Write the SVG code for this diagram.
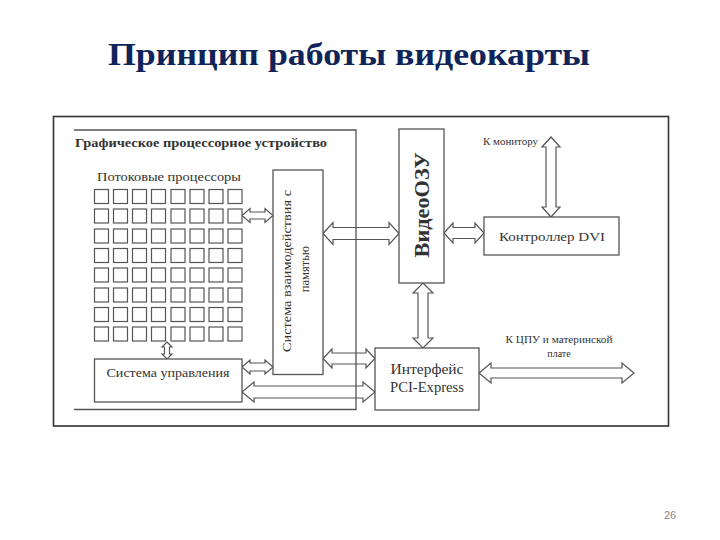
<svg xmlns="http://www.w3.org/2000/svg" width="720" height="540" viewBox="0 0 720 540">
<style>
.box{fill:#fff;stroke:#555;stroke-width:1.3}
.cell{fill:#fff;stroke:#555;stroke-width:1.2}
.ln{fill:none;stroke:#555;stroke-width:1.3}
.arr{fill:#fff;stroke:#555;stroke-width:1.2;stroke-linejoin:miter}
.t{font-family:"Liberation Serif","DejaVu Serif",serif;fill:#333}
</style>
<rect x="0" y="0" width="720" height="540" fill="#fff"/>
<text x="349" y="65" text-anchor="middle" font-family="Liberation Serif, Times New Roman, serif" font-weight="bold" font-size="32" fill="#10245a" textLength="482" lengthAdjust="spacingAndGlyphs">Принцип работы видеокарты</text>
<g id="panel">
<rect x="53.5" y="116.5" width="615" height="309.5" fill="#fff" stroke="#333" stroke-width="1.6"/>
</g>
<g id="connectors">
<polygon class="arr" points="242,215.5 250,208.5 250,212 265,212 265,208.5 273,215.5 265,222.5 265,219 250,219 250,222.5"/>
<polygon class="arr" points="323,233.5 333,222.5 333,227.5 389,227.5 389,222.5 399,233.5 389,244.5 389,239.5 333,239.5 333,244.5"/>
<polygon class="arr" points="444,233 453,223 453,227.5 475,227.5 475,223 484,233 475,243 475,238.5 453,238.5 453,243"/>
<polygon class="arr" points="551,137 560,147 556,147 556,207 560,207 551,217 542,207 546,207 546,147 542,147"/>
<polygon class="arr" points="423,283 433,293 428,293 428,338 433,338 423,348 413,338 418,338 418,293 413,293"/>
<polygon class="arr" points="323,358.5 332,349 332,353 366,353 366,349 375,358.5 366,368 366,364 332,364 332,368"/>
<polygon class="arr" points="242,367 250,360 250,363 265,363 265,360 273,367 265,374 265,371 250,371 250,374"/>
<polygon class="arr" points="242,392 254,382 254,386 363,386 363,382 375,392 363,402 363,398 254,398 254,402"/>
<polygon class="arr" points="479,373 491,363 491,368 622,368 622,363 634,373 622,383 622,378 491,378 491,383"/>
<polygon class="arr" points="167,342 172,347 169.5,347 169.5,354 172,354 167,359 162,354 164.5,354 164.5,347 162,347"/>
</g>
<g id="gpu">
<polyline class="ln" points="74,130 356,130 356,409.5 74,409.5"/>
<text class="t" x="75" y="147" font-size="12.5" font-weight="bold" textLength="252" lengthAdjust="spacingAndGlyphs">Графическое процессорное устройство</text>
</g>
<g id="stream-processors">
<text class="t" x="169" y="181" font-size="12.5" text-anchor="middle" textLength="144" lengthAdjust="spacingAndGlyphs">Потоковые процессоры</text>
<g>
<rect class="cell" x="94.5" y="189.5" width="14" height="14"/><rect class="cell" x="113.5" y="189.5" width="14" height="14"/><rect class="cell" x="132.5" y="189.5" width="14" height="14"/><rect class="cell" x="151.5" y="189.5" width="14" height="14"/><rect class="cell" x="171" y="189.5" width="14" height="14"/><rect class="cell" x="190" y="189.5" width="14" height="14"/><rect class="cell" x="209" y="189.5" width="14" height="14"/><rect class="cell" x="228" y="189.5" width="14" height="14"/>
<rect class="cell" x="94.5" y="209" width="14" height="14"/><rect class="cell" x="113.5" y="209" width="14" height="14"/><rect class="cell" x="132.5" y="209" width="14" height="14"/><rect class="cell" x="151.5" y="209" width="14" height="14"/><rect class="cell" x="171" y="209" width="14" height="14"/><rect class="cell" x="190" y="209" width="14" height="14"/><rect class="cell" x="209" y="209" width="14" height="14"/><rect class="cell" x="228" y="209" width="14" height="14"/>
<rect class="cell" x="94.5" y="229" width="14" height="14"/><rect class="cell" x="113.5" y="229" width="14" height="14"/><rect class="cell" x="132.5" y="229" width="14" height="14"/><rect class="cell" x="151.5" y="229" width="14" height="14"/><rect class="cell" x="171" y="229" width="14" height="14"/><rect class="cell" x="190" y="229" width="14" height="14"/><rect class="cell" x="209" y="229" width="14" height="14"/><rect class="cell" x="228" y="229" width="14" height="14"/>
<rect class="cell" x="94.5" y="248.5" width="14" height="14"/><rect class="cell" x="113.5" y="248.5" width="14" height="14"/><rect class="cell" x="132.5" y="248.5" width="14" height="14"/><rect class="cell" x="151.5" y="248.5" width="14" height="14"/><rect class="cell" x="171" y="248.5" width="14" height="14"/><rect class="cell" x="190" y="248.5" width="14" height="14"/><rect class="cell" x="209" y="248.5" width="14" height="14"/><rect class="cell" x="228" y="248.5" width="14" height="14"/>
<rect class="cell" x="94.5" y="268" width="14" height="14"/><rect class="cell" x="113.5" y="268" width="14" height="14"/><rect class="cell" x="132.5" y="268" width="14" height="14"/><rect class="cell" x="151.5" y="268" width="14" height="14"/><rect class="cell" x="171" y="268" width="14" height="14"/><rect class="cell" x="190" y="268" width="14" height="14"/><rect class="cell" x="209" y="268" width="14" height="14"/><rect class="cell" x="228" y="268" width="14" height="14"/>
<rect class="cell" x="94.5" y="288" width="14" height="14"/><rect class="cell" x="113.5" y="288" width="14" height="14"/><rect class="cell" x="132.5" y="288" width="14" height="14"/><rect class="cell" x="151.5" y="288" width="14" height="14"/><rect class="cell" x="171" y="288" width="14" height="14"/><rect class="cell" x="190" y="288" width="14" height="14"/><rect class="cell" x="209" y="288" width="14" height="14"/><rect class="cell" x="228" y="288" width="14" height="14"/>
<rect class="cell" x="94.5" y="307.5" width="14" height="14"/><rect class="cell" x="113.5" y="307.5" width="14" height="14"/><rect class="cell" x="132.5" y="307.5" width="14" height="14"/><rect class="cell" x="151.5" y="307.5" width="14" height="14"/><rect class="cell" x="171" y="307.5" width="14" height="14"/><rect class="cell" x="190" y="307.5" width="14" height="14"/><rect class="cell" x="209" y="307.5" width="14" height="14"/><rect class="cell" x="228" y="307.5" width="14" height="14"/>
<rect class="cell" x="94.5" y="327" width="14" height="14"/><rect class="cell" x="113.5" y="327" width="14" height="14"/><rect class="cell" x="132.5" y="327" width="14" height="14"/><rect class="cell" x="151.5" y="327" width="14" height="14"/><rect class="cell" x="171" y="327" width="14" height="14"/><rect class="cell" x="190" y="327" width="14" height="14"/><rect class="cell" x="209" y="327" width="14" height="14"/><rect class="cell" x="228" y="327" width="14" height="14"/>
</g>
</g>
<g id="memory-interface">
<rect class="box" x="273" y="170" width="50" height="204.5"/>
<text class="t" font-size="12.5" text-anchor="middle" transform="translate(291,271) rotate(-90)" textLength="162" lengthAdjust="spacingAndGlyphs">Система взаимодействия с</text>
<text class="t" font-size="12.5" text-anchor="middle" transform="translate(309,269) rotate(-90)">памятью</text>
</g>
<g id="control-system">
<rect class="box" x="94.5" y="359" width="147.5" height="43"/>
<text class="t" x="168" y="377" font-size="12.5" text-anchor="middle" textLength="123" lengthAdjust="spacingAndGlyphs">Система управления</text>
</g>
<g id="video-ram">
<rect class="box" x="399" y="129" width="45" height="154"/>
<text class="t" font-size="20" font-weight="bold" text-anchor="middle" transform="translate(429,205) rotate(-90)" fill="#222" textLength="105" lengthAdjust="spacingAndGlyphs">ВидеоОЗУ</text>
</g>
<g id="dvi-controller">
<rect class="box" x="484" y="217" width="135" height="38"/>
<text class="t" x="552" y="241" font-size="13" text-anchor="middle" textLength="106" lengthAdjust="spacingAndGlyphs">Контроллер DVI</text>
</g>
<g id="monitor-label">
<text class="t" x="483" y="145" font-size="10" textLength="55" lengthAdjust="spacingAndGlyphs">К монитору</text>
</g>
<g id="pci-express">
<rect class="box" x="375" y="348" width="104" height="62"/>
<text class="t" x="427" y="374" font-size="14" text-anchor="middle" textLength="73" lengthAdjust="spacingAndGlyphs">Интерфейс</text>
<text class="t" x="427" y="392" font-size="14" text-anchor="middle" textLength="74" lengthAdjust="spacingAndGlyphs">PCI-Express</text>
</g>
<g id="cpu-label">
<text class="t" x="559" y="343" font-size="10" text-anchor="middle" textLength="107" lengthAdjust="spacingAndGlyphs">К ЦПУ и материнской</text>
<text class="t" x="559" y="357" font-size="10" text-anchor="middle">плате</text>
</g>
<text x="670" y="519" text-anchor="middle" font-family="Liberation Sans, Arial, sans-serif" font-size="11" fill="#888">26</text>
</svg>
